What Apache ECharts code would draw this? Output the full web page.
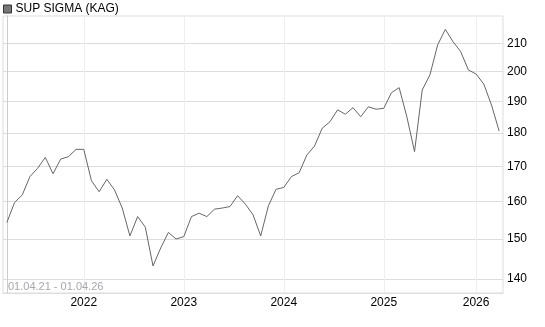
<!DOCTYPE html>
<html>
<head>
<meta charset="utf-8">
<script src="https://cdn.jsdelivr.net/npm/echarts@6/dist/echarts.min.js"></script>
<style>
html,body{margin:0;padding:0;background:#fff;}
#chart{width:545px;height:327px;}
</style>
</head>
<body>
<div id="chart"></div>
<script>
// Series: SUP SIGMA (KAG), 4-weekly samples 01.04.21 - 01.04.26
const seriesName = 'SUP SIGMA (KAG)';
const rangeLabel = '01.04.21 - 01.04.26';
const values = [
  154.3, 159.7, 161.8, 167.0, 169.4, 172.6, 167.8, 172.1, 172.8, 175.0,
  175.0, 165.8, 162.7, 166.2, 163.2, 158.2, 150.8, 155.9, 153.1, 143.2,
  147.7, 151.7, 150.0, 150.6, 155.9, 156.8, 155.9, 157.9, 158.2, 158.6,
  161.6, 159.3, 156.4, 150.8, 158.8, 163.4, 163.9, 167.0, 168.1, 173.3,
  176.0, 181.5, 183.5, 187.3, 185.9, 188.0, 185.1, 188.3, 187.5, 187.8,
  192.9, 194.6, 185.1, 174.3, 193.8, 198.9, 209.4, 215.1, 210.6, 207.0,
  200.6, 199.2, 195.8, 188.9, 180.6
];
// Year tick labels and the sample index where each year starts
const yearLabels = ['2022', '2023', '2024', '2025', '2026'];
const yearIndex = [10, 23, 36, 49, 61];
// Price tick labels (logarithmic axis)
const priceTicks = [140, 150, 160, 170, 180, 190, 200, 210];
const priceMin = 136.7;
const priceMax = 220.1;

const ln = Math.log;
const seriesData = values.map((v, i) => [i, ln(v)]);
const yTickVals = priceTicks.map(ln);

const chart = echarts.init(document.getElementById('chart'), null, {renderer: 'canvas'});
chart.setOption({
  animation: false,
  textStyle: {fontFamily: 'Liberation Sans, Arial, sans-serif'},
  title: {
    text: rangeLabel,
    left: 3,
    top: 276,
    textStyle: {fontSize: 11, fontWeight: 'normal', color: '#a6a6ad', fontFamily: 'Liberation Sans, Arial, sans-serif'}
  },
  legend: {
    left: 0,
    top: 1,
    padding: [2, 3],
    icon: 'rect',
    itemWidth: 8,
    itemHeight: 8,
    itemGap: 10,
    textStyle: {fontSize: 12, color: '#000', padding: [0, 0, 0, -1]},
    data: [{name: seriesName, itemStyle: {color: '#777', borderColor: '#333', borderWidth: 1}}]
  },
  grid: {
    left: 3,
    right: 42,
    top: 16,
    bottom: 34,
    show: true,
    borderColor: '#ddd',
    borderWidth: 1,
    containLabel: false
  },
  xAxis: {
    type: 'value',
    min: -0.5,
    max: values.length - 0.5,
    axisLine: {show: true, lineStyle: {color: '#ddd'}},
    axisTick: {show: false, customValues: yearIndex},
    axisLabel: {
      customValues: yearIndex,
      color: '#000',
      fontSize: 12,
      margin: 4,
      formatter: v => yearLabels[yearIndex.indexOf(Math.round(v))] || ''
    },
    splitLine: {show: true, lineStyle: {color: '#eee', width: 1}}
  },
  yAxis: {
    type: 'value',
    position: 'right',
    min: ln(priceMin),
    max: ln(priceMax),
    axisLine: {show: true, lineStyle: {color: '#ccc'}},
    axisTick: {show: false, customValues: yTickVals},
    axisLabel: {
      customValues: yTickVals,
      color: '#000',
      fontSize: 12,
      margin: 4,
      formatter: v => String(Math.round(Math.exp(v)))
    },
    splitLine: {show: true, lineStyle: {color: '#ddd', width: 1}}
  },
  series: [{
    name: seriesName,
    type: 'line',
    data: seriesData,
    showSymbol: false,
    symbol: 'none',
    lineStyle: {color: '#666', width: 1},
    itemStyle: {color: '#777'}
  }]
});
</script>
</body>
</html>
